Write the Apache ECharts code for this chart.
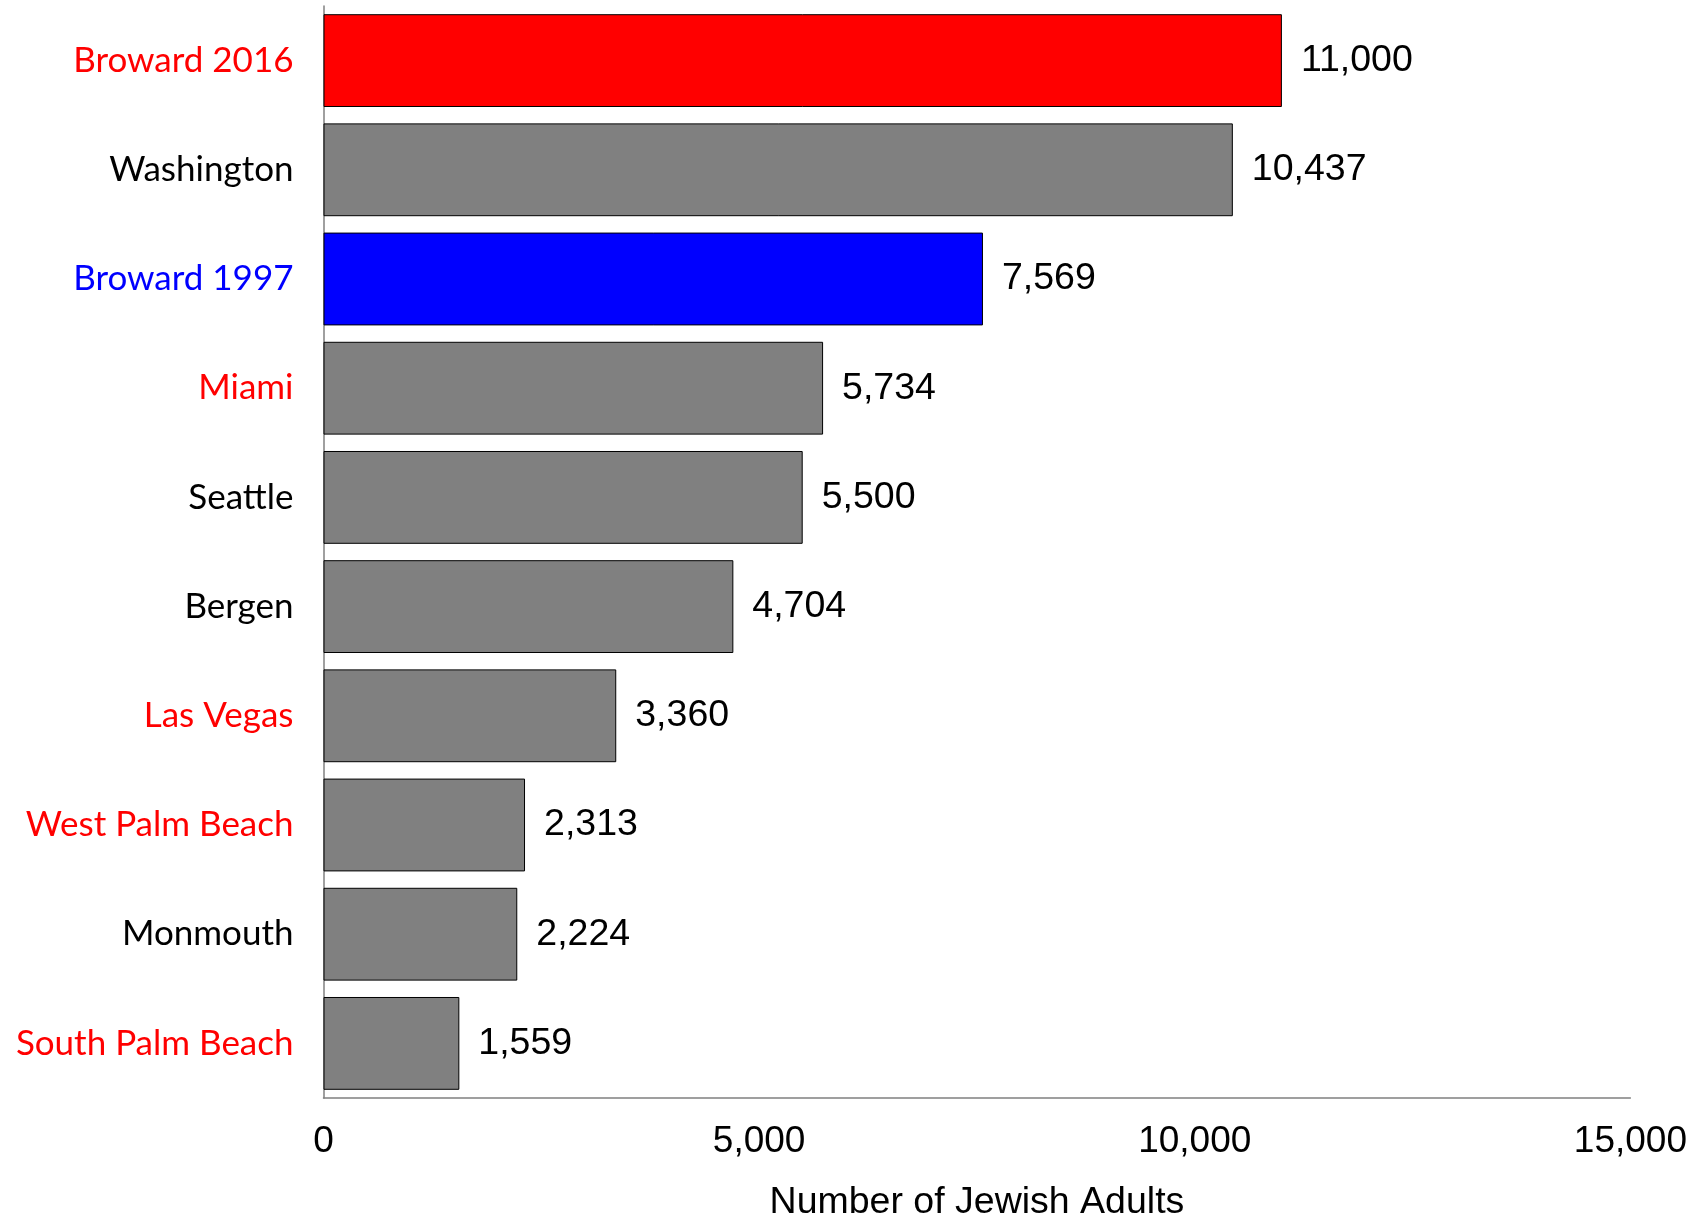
<!DOCTYPE html>
<html>
<head>
<meta charset="utf-8">
<script src="https://cdn.jsdelivr.net/npm/echarts@6/dist/echarts.min.js"></script>
<style>
html,body{margin:0;padding:0;background:#fff;}
#chart{width:1702px;height:1227px;}
</style>
</head>
<body>
<div id="chart"></div>
<script>
const categories = ['Broward 2016', 'Washington', 'Broward 1997', 'Miami', 'Seattle', 'Bergen', 'Las Vegas', 'West Palm Beach', 'Monmouth', 'South Palm Beach'];
const values = [11000, 10437, 7569, 5734, 5500, 4704, 3360, 2313, 2224, 1559];
const barColors = ['#FF0000', '#808080', '#0000FF', '#808080', '#808080', '#808080', '#808080', '#808080', '#808080', '#808080'];
const labelColors = ['#FF0000', '#000000', '#0000FF', '#FF0000', '#000000', '#000000', '#FF0000', '#FF0000', '#000000', '#FF0000'];
const xTicks = [0, 5000, 10000, 15000];
const axisTitle = 'Number of Jewish Adults';

const fmt = v => v.toString().replace(/\B(?=(\d{3})+(?!\d))/g, ',');

const chart = echarts.init(document.getElementById('chart'), null, {renderer: 'canvas'});
const richStyles = {};
labelColors.forEach((c, i) => { richStyles['c' + i] = {color: c, fontFamily: 'Lato', fontSize: 35}; });

chart.setOption({
  animation: false,
  backgroundColor: '#ffffff',
  grid: {left: 323.5, right: 71.6, top: 6, bottom: 121.5, containLabel: false},
  xAxis: {
    type: 'value',
    min: xTicks[0],
    max: xTicks[xTicks.length - 1],
    interval: 5000,
    name: axisTitle,
    nameLocation: 'middle',
    nameGap: 86,
    nameTextStyle: {fontFamily: 'Liberation Sans, Arial', fontSize: 37.5, color: '#000'},
    axisLine: {show: true, lineStyle: {color: '#808080', width: 1.5}},
    axisTick: {show: false},
    splitLine: {show: false},
    axisLabel: {
      margin: 25,
      fontFamily: 'Liberation Sans, Arial',
      fontSize: 37,
      color: '#000',
      formatter: v => fmt(v)
    }
  },
  yAxis: {
    type: 'category',
    data: categories,
    inverse: true,
    axisLine: {show: true, lineStyle: {color: '#808080', width: 1.5}},
    axisTick: {show: false},
    splitLine: {show: false},
    axisLabel: {
      margin: 30,
      fontFamily: 'Lato',
      fontSize: 35,
      formatter: (v, i) => '{c' + i + '|' + v + '}',
      rich: richStyles
    }
  },
  series: [{
    type: 'bar',
    data: values.map((v, i) => ({value: v, itemStyle: {color: barColors[i]}})),
    barCategoryGap: '15%',
    itemStyle: {borderColor: '#000', borderWidth: 1},
    label: {
      show: true,
      position: 'right',
      distance: 19,
      fontFamily: 'Liberation Sans, Arial',
      fontSize: 37.5,
      color: '#000',
      formatter: p => fmt(p.value)
    }
  }]
});
</script>
</body>
</html>
